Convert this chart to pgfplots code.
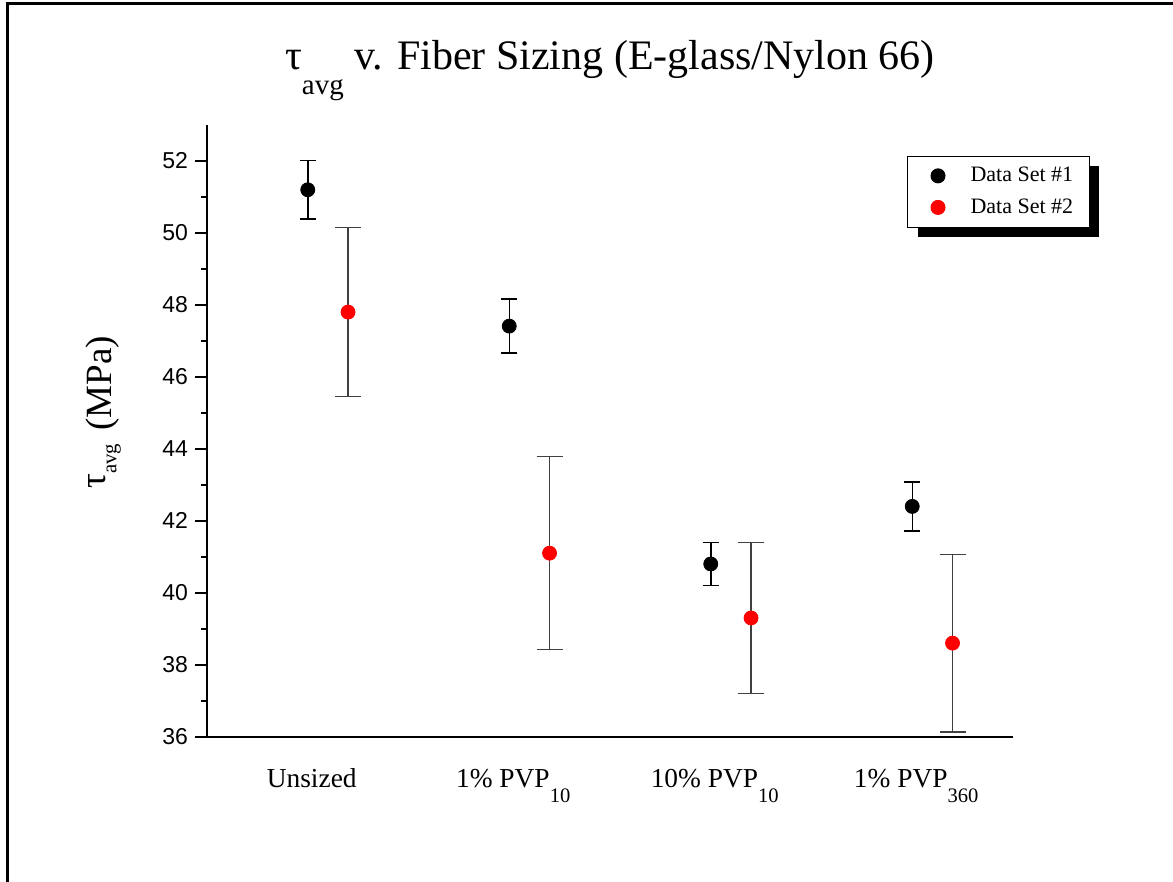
\documentclass[border=0pt]{standalone}
\usepackage{fontspec}
\setmainfont{Liberation Serif}
\newfontfamily\arial{Liberation Sans}
\usepackage{pgfplots}
\usepackage{pgfplotstable}
\pgfplotsset{compat=1.18}
\usetikzlibrary{shadows}

\pgfplotstableread{
x y e
1 51.20 0.81
2 47.41 0.75
3 40.80 0.60
4 42.40 0.68
}\setone
\pgfplotstableread{
x y e
1.2 47.80 2.35
2.2 41.10 2.68
3.2 39.30 2.10
4.2 38.60 2.47
}\settwo

\newcommand\sub[1]{\raisebox{-7.8pt}{\fontsize{10.3}{12}\selectfont #1}}

\begin{document}
\begin{tikzpicture}
\useasboundingbox (0,0) rectangle (586.5pt,441pt);
\draw[line width=1.5pt] (3.65pt,-2pt) -- (3.65pt,439pt) -- (592pt,439pt);
\begin{axis}[
  at={(103.5pt,72.65pt)}, anchor=south west,
  scale only axis, width=403pt, height=305.85pt,
  xmin=0.5, xmax=4.5, ymin=36, ymax=53,
  axis x line=bottom, axis y line=left,
  axis line style={line width=1pt, -},
  xtick={1,2,3,4},
  xticklabels={Unsized, 1\% PVP\sub{10}, 10\% PVP\sub{10}, 1\% PVP\sub{360}},
  xtick style={draw=none},
  xticklabel style={anchor=base, yshift=-19.2pt, xshift=2pt, font=\fontsize{13.7}{14}\selectfont},
  ytick={36,38,...,52},
  minor y tick num=1,
  tick align=outside,
  major tick length=6pt, minor tick length=3pt,
  ytick style={line width=1pt, black},
  minor y tick style={line width=1pt, black},
  yticklabel style={font=\arial\fontsize{11.5}{12}\selectfont},
  /pgf/number format/assume math mode=true,
  title={\raisebox{0pt}{\fontsize{21}{21}\selectfont τ}\raisebox{-12.5pt}{\fontsize{14.5}{14.5}\selectfont avg} v. Fiber Sizing (E-glass/Nylon 66)},
  title style={at={(axis description cs:0.5,1.071)}, anchor=base, yshift=0pt, font=\fontsize{21}{21}\selectfont},
  ylabel={\raisebox{3pt}{\fontsize{18.5}{18.5}\selectfont τ}\raisebox{-2.4pt}{\fontsize{10.4}{10.4}\selectfont avg}\hspace{2pt} (MPa)},
  ylabel style={at={(axis description cs:-0.1183,0.53)}, anchor=base, font=\fontsize{18.5}{18.5}\selectfont},
  legend style={at={(axis description cs:0.8685,0.95)}, anchor=north west,
    draw=black, line width=0.5pt, fill=white,
    drop shadow={shadow xshift=5pt, shadow yshift=-5pt, opacity=1, fill=black},
    font=\fontsize{11}{12}\selectfont,
    inner xsep=6pt, inner ysep=3.5pt, row sep=3pt,
    /tikz/every odd column/.append style={column sep=10.5pt}},
  legend cell align=left,
  legend image code/.code={\path (0pt,0pt) (12.5pt,0pt); \draw[#1] plot coordinates {(9pt,0pt)};},
]
\addplot[only marks, mark=*, mark size=3.5pt, black,
  error bars/.cd, y dir=both, y explicit,
  error bar style={line width=0.75pt, black},
  error mark options={rotate=90, mark size=4pt, line width=0.75pt, black}]
  table[x=x, y=y, y error=e] {\setone};
\addlegendentry{Data Set \#1}
\addplot[only marks, mark=*, mark size=3.5pt, red,
  error bars/.cd, y dir=both, y explicit,
  error bar style={line width=0.75pt, black!75},
  error mark options={rotate=90, mark size=6.5pt, line width=0.75pt, black!75}]
  table[x=x, y=y, y error=e] {\settwo};
\addlegendentry{Data Set \#2}
\end{axis}
\end{tikzpicture}
\end{document}
